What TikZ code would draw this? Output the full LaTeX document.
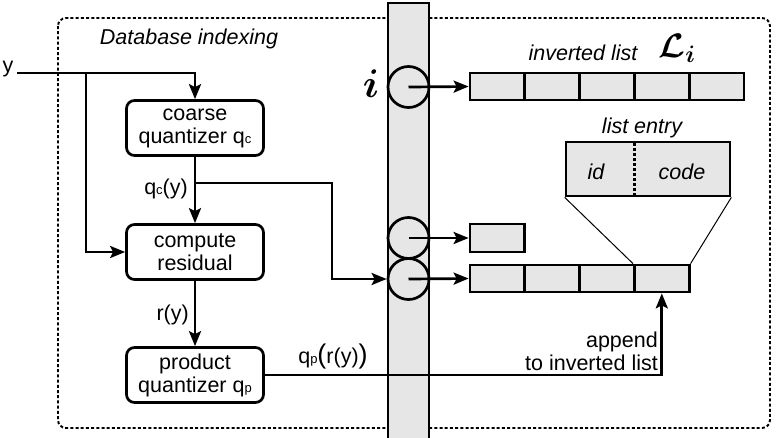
\RequirePackage{fix-cm}
\documentclass[tikz,border=0pt]{standalone}
\usepackage{amsmath,amssymb,bm}
\usepackage{fontspec}
\setmainfont{Liberation Sans}
\usetikzlibrary{arrows.meta}
\definecolor{cellgray}{RGB}{230,230,230}
\newcommand\smallsub[1]{{\fontsize{13}{13}\selectfont #1}}
\newcommand\bigpar[1]{{\fontsize{27}{27}\selectfont #1}}
\tikzset{
  every node/.style={font=\fontsize{21.5}{23}\selectfont, inner sep=0pt},
  procbox/.style={draw, line width=2.7pt, rounded corners=8pt, minimum width=137pt, minimum height=55pt, align=center},
  cellbox/.style={draw, fill=cellgray, line width=2.7pt, minimum width=54.8pt, minimum height=27pt},
  slot/.style={draw, circle, line width=2.7pt, minimum size=41pt},
  conn/.style={line width=2.7pt, -{Stealth[length=15pt, width=12pt, inset=3pt]}},
  thinline/.style={line width=1pt},
}
\begin{document}
\begin{tikzpicture}[x=1pt, y=-1pt]
\useasboundingbox (0,0) rectangle (777,437);
% frame
\draw[line width=1.9pt, dash pattern=on 3pt off 2.2pt, rounded corners=8pt] (58,18) rectangle (770,428);
\node[font=\fontsize{21.5}{23}\selectfont\itshape] (title) at (189,39) {Database indexing};
% bar
\draw[fill=cellgray, line width=2.7pt] (388,3) rectangle (429,440);
% boxes
\node[procbox] (coarse) at (195,128) {coarse\\quantizer q\smallsub{c}};
\node[procbox] (compute) at (195,252) {compute\\residual};
\node[procbox] (product) at (195,375) {product\\quantizer q\smallsub{p}};
% input
\node (ylab) at (8,69) {y};
\coordinate (yin) at (17,73);
\coordinate (ybr) at (86,73);
\draw[conn] (yin) -| (coarse.north);
\draw[conn] (ybr) |- (compute.west);
% coarse to compute
\coordinate (qbr) at (195,183);
\draw[conn] (coarse.south) -- (compute.north);
\node[anchor=east] (qclab) at (188,189) {q\smallsub{c}(y)};
% compute to product
\draw[conn] (compute.south) -- (product.north);
\node[anchor=east] (rlab) at (189,315) {r(y)};
% slots
\node[slot] (s1) at (408.5,87) {};
\node[slot] (s2) at (408.5,238) {};
\node[slot] (s3) at (408.5,279) {};
\node[font=\fontsize{40}{40}\selectfont] (ilab) at (371,84) {$\boldsymbol{i}$};
% list 1
\foreach \k in {1,...,5} {
  \node[cellbox] (a\k) at ({470+27.4+54.8*(\k-1)},86.5) {};
}
\node[font=\fontsize{21.5}{23}\selectfont\itshape] (invlab) at (583,53) {inverted list};
\node[font=\fontsize{34}{34}\selectfont] (Llab) at (677,48) {$\boldsymbol{\mathcal{L}_i}$};
% list 2
\node[cellbox, minimum height=28pt] (b1) at (497.4,238) {};
% list 3
\foreach \k in {1,...,4} {
  \node[cellbox] (c\k) at ({470+27.4+54.8*(\k-1)},278.5) {};
}
% arrows from slots
\draw[conn] (s1.center) -- (a1.west);
\draw[conn] (s2.center) -- (b1.west);
\draw[conn] (s3.center) -- (c1.west);
% qc(y) branch
\draw[conn] (qbr) -- ++(137,0) |- (s3.west);
% list entry
\node[draw, fill=cellgray, line width=2.7pt, minimum width=164pt, minimum height=54pt] (entry) at (648,169) {};
\draw[line width=3pt, dash pattern=on 3pt off 2pt] (634,143) -- (634,195);
\node[font=\fontsize{21.5}{23}\selectfont\itshape] (idlab) at (596,172) {id};
\node[font=\fontsize{21.5}{23}\selectfont\itshape] (codelab) at (682,172) {code};
\node[font=\fontsize{21.5}{23}\selectfont\itshape] (entrylab) at (642,128) {list entry};
\draw[thinline] (entry.south west) -- (c4.north west);
\draw[thinline] (entry.south east) -- (c4.north east);
% product to list
\draw[conn] (product.east) -| (c4.south);
\node[anchor=south] (qplab) at (333,369) {q\smallsub{p}\bigpar{(}r(y)\bigpar{)}};
\node[anchor=east, align=right] (applab) at (658,351) {append\\to inverted list};
\end{tikzpicture}
\end{document}
